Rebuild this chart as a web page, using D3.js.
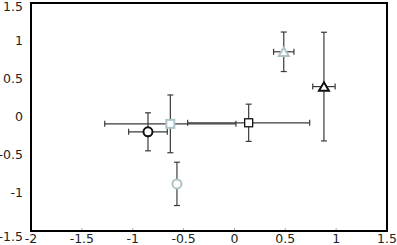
<!DOCTYPE html>
<html>
<head>
<meta charset="utf-8">
<script src="https://cdn.jsdelivr.net/npm/d3@7"></script>
<style>
  html, body { margin: 0; padding: 0; background: #fff; }
  svg text { font-family: "DejaVu Sans", sans-serif; font-size: 12.5px; fill: #222; }
</style>
</head>
<body>
<div id="chart"></div>
<script>
// point data
var xVals = [-0.85, -0.63, 0.14, -0.565, 0.485, 0.88];
var yVals = [-0.195, -0.09, -0.076, -0.88, 0.858, 0.40];
var xErr = [0.19, 0.645, 0.6, 0.03, 0.1, 0.11];
var yErr = [0.25, 0.38, 0.245, 0.285, 0.26, 0.715];
var shapes = ['circle', 'square', 'square', 'circle', 'triangle', 'triangle'];
var tones = ['dark', 'light', 'dark', 'light', 'light', 'dark'];

// tick labels
var xTicks = [-2, -1.5, -1, -0.5, 0, 0.5, 1, 1.5];
var yTicks = [-1.5, -1, -0.5, 0, 0.5, 1, 1.5];

function drawChart() {
  var width = 397, height = 245;
  var pLeft = 31, pRight = 387, pTop = 3, pBottom = 231;

  var xScale = d3.scaleLinear().domain([-2, 1.5]).range([pLeft, pRight]);
  var yScale = d3.scaleLinear().domain([-1.5, 1.5]).range([pBottom, pTop]);

  var svg = d3.select('#chart').append('svg')
    .attr('width', width)
    .attr('height', height);

  var points = xVals.map(function(x, i) {
    return {x: x, y: yVals[i], ex: xErr[i], ey: yErr[i], shape: shapes[i], tone: tones[i]};
  });

  var fmt = function(d) { return String(d); };

  // small inward ticks on x
  svg.selectAll('.xtick')
    .data(xTicks.slice(1, -1))
    .enter().append('line')
    .attr('x1', function(d) { return xScale(d); })
    .attr('x2', function(d) { return xScale(d); })
    .attr('y1', pBottom)
    .attr('y2', pBottom - 3)
    .attr('stroke', '#aaa')
    .attr('stroke-width', 1);

  // tick labels
  svg.selectAll('.xlab')
    .data(xTicks)
    .enter().append('text')
    .attr('x', function(d) { return xScale(d); })
    .attr('y', pBottom + 12)
    .attr('text-anchor', 'middle')
    .text(fmt);

  svg.selectAll('.ylab')
    .data(yTicks)
    .enter().append('text')
    .attr('x', pLeft - 8)
    .attr('y', function(d) {
      var y = yScale(d);
      if (d === 1.5) y += 4;
      if (d === -1.5) y += 6;
      return y;
    })
    .attr('dy', '0.35em')
    .attr('text-anchor', 'end')
    .text(fmt);

  // error bars
  var cap = 3;
  var eb = svg.append('g').attr('stroke', '#3a3a3a').attr('stroke-width', 1.2).attr('fill', 'none');

  points.forEach(function(p) {
    var cx = xScale(p.x), cy = yScale(p.y);
    var x0 = xScale(p.x - p.ex), x1 = xScale(p.x + p.ex);
    var y0 = yScale(p.y - p.ey), y1 = yScale(p.y + p.ey);
    eb.append('line').attr('x1', x0).attr('x2', x1).attr('y1', cy).attr('y2', cy);
    eb.append('line').attr('x1', x0).attr('x2', x0).attr('y1', cy - cap).attr('y2', cy + cap);
    eb.append('line').attr('x1', x1).attr('x2', x1).attr('y1', cy - cap).attr('y2', cy + cap);
    eb.append('line').attr('x1', cx).attr('x2', cx).attr('y1', y0).attr('y2', y1);
    eb.append('line').attr('x1', cx - cap).attr('x2', cx + cap).attr('y1', y0).attr('y2', y0);
    eb.append('line').attr('x1', cx - cap).attr('x2', cx + cap).attr('y1', y1).attr('y2', y1);
  });

  // markers
  var colors = {dark: '#111', light: '#aec3c7'};
  points.forEach(function(p) {
    var cx = xScale(p.x), cy = yScale(p.y);
    var stroke = colors[p.tone];
    var sw = (p.shape === 'square' && p.tone === 'dark') ? 1.3 : 2;
    if (p.shape === 'circle') {
      svg.append('circle').attr('cx', cx).attr('cy', cy).attr('r', 4.5)
        .attr('fill', '#fff').attr('stroke', stroke).attr('stroke-width', sw);
    } else if (p.shape === 'square') {
      svg.append('rect').attr('x', cx - 4).attr('y', cy - 4).attr('width', 8).attr('height', 8)
        .attr('fill', '#fff').attr('stroke', stroke).attr('stroke-width', sw);
    } else {
      var w = 10, h = 8.5;
      var pts = [[cx, cy - h / 2], [cx + w / 2, cy + h / 2], [cx - w / 2, cy + h / 2]];
      svg.append('path').attr('d', 'M' + pts.join('L') + 'Z')
        .attr('fill', '#fff').attr('stroke', stroke).attr('stroke-width', sw)
        .attr('stroke-linejoin', 'miter');
    }
  });

  // frame
  svg.append('rect')
    .attr('x', pLeft).attr('y', pTop)
    .attr('width', pRight - pLeft).attr('height', pBottom - pTop)
    .attr('fill', 'none').attr('stroke', '#000').attr('stroke-width', 2);
}

drawChart();
</script>
</body>
</html>
